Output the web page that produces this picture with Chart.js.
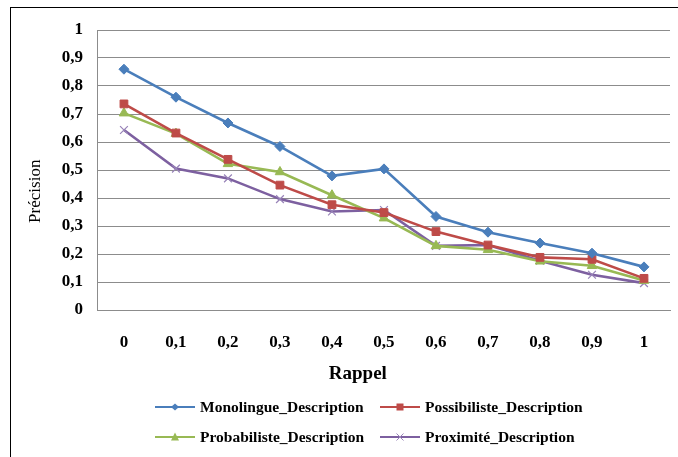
<!DOCTYPE html>
<html>
<head>
<meta charset="utf-8">
<script src="https://cdn.jsdelivr.net/npm/chart.js@4.4.1/dist/chart.umd.min.js"></script>
<style>
    body { margin: 0; background: #fff; width: 678px; height: 457px; overflow: hidden; position: relative; font-family: "Liberation Serif", serif; }
    #marco { position: absolute; left: 10px; top: 7px; width: 700px; height: 500px; border-left: 1px solid #000; border-top: 1px solid #000; }
    #grafica { position: absolute; left: 0; top: 0; }
    .item { position: absolute; display: flex; align-items: center; height: 20px; font-weight: bold; font-size: 15.5px; color: #000; white-space: nowrap; }
    .item svg { margin-right: 5px; }
</style>
</head>
<body>
<div id="marco"></div>
<canvas id="grafica" width="678" height="400"></canvas>
<div id="leyenda"></div>
<script>
// datos
const categorias = ['0', '0,1', '0,2', '0,3', '0,4', '0,5', '0,6', '0,7', '0,8', '0,9', '1'];
const monolingue = [0.86, 0.76, 0.668, 0.584, 0.479, 0.504, 0.334, 0.278, 0.239, 0.203, 0.154];
const possibiliste = [0.736, 0.632, 0.538, 0.446, 0.376, 0.348, 0.28, 0.232, 0.188, 0.181, 0.113];
const probabiliste = [0.703, 0.63, 0.522, 0.493, 0.41, 0.328, 0.229, 0.215, 0.174, 0.158, 0.105];
const proximite = [0.643, 0.505, 0.47, 0.396, 0.352, 0.357, 0.229, 0.232, 0.176, 0.126, 0.096];

const nombres = ['Monolingue_Description', 'Possibiliste_Description', 'Probabiliste_Description', 'Proximité_Description'];
const colores = ['#4A7EBB', '#BE4B48', '#98B954', '#7D60A0'];
const marcadores = ['rectRot', 'rect', 'triangle', 'crossRot'];
const valores = [monolingue, possibiliste, probabiliste, proximite];

const fuente = '"Liberation Serif", "Times New Roman", serif';
const gris = '#8c8c8c';
const nbsp = '\u00A0';

const ctx = document.getElementById('grafica').getContext('2d');

new Chart(ctx, {
    type: 'line',
    data: {
        labels: categorias,
        datasets: valores.map((serie, i) => ({
            label: nombres[i],
            data: serie,
            borderColor: colores[i],
            backgroundColor: colores[i],
            borderWidth: 2.6,
            pointStyle: marcadores[i],
            pointRadius: i === 0 ? 5 : 5.5,
            pointBorderWidth: i === 3 ? 1.2 : 1,
            pointBorderColor: i === 3 ? '#9883b8' : colores[i],
            tension: 0,
            fill: false
        }))
    },
    options: {
        responsive: false,
        animation: false,
        devicePixelRatio: 1,
        layout: {
            padding: { left: 25, top: 30, right: 8, bottom: 14.6 }
        },
        plugins: {
            legend: { display: false },
            tooltip: { enabled: false }
        },
        scales: {
            y: {
                min: 0,
                max: 1,
                ticks: {
                    stepSize: 0.1,
                    color: '#000',
                    padding: 15,
                    font: { family: fuente, size: 17, weight: 'bold' },
                    callback: v => String(Math.round(v * 10) / 10).replace('.', ',')
                },
                grid: { color: gris, lineWidth: 1, drawTicks: false },
                border: { color: gris },
                title: {
                    display: true,
                    // espacios al final para bajar el titulo como en el original
                    text: 'Précision' + nbsp.repeat(10),
                    color: '#000',
                    font: { family: fuente, size: 17 },
                    padding: { top: 0, bottom: 1.3 }
                }
            },
            x: {
                offset: true,
                grid: { display: false, drawTicks: false },
                border: { color: gris },
                ticks: {
                    color: '#000',
                    padding: 22.8,
                    maxRotation: 0,
                    font: { family: fuente, size: 17, weight: 'bold' }
                },
                title: {
                    display: true,
                    text: 'Rappel' + nbsp.repeat(11),
                    color: '#000',
                    font: { family: fuente, size: 19, weight: 'bold' },
                    padding: { top: -13.4, bottom: 0 }
                }
            }
        }
    }
});

// leyenda en dos columnas como la original
function dibujarMarcador(tipo, color) {
    let forma = '';
    if (tipo === 'rectRot') forma = `<polygon points="20,1.5 24,5 20,8.5 16,5" fill="${color}"/>`;
    if (tipo === 'rect') forma = `<rect x="16.5" y="1.5" width="7" height="7" fill="${color}"/>`;
    if (tipo === 'triangle') forma = `<polygon points="20,0.5 24,8.5 16,8.5" fill="${color}"/>`;
    if (tipo === 'crossRot') forma = `<path d="M16.5 1.5 L23.5 8.5 M23.5 1.5 L16.5 8.5" stroke="#9883b8" stroke-width="1"/>`;
    return `<svg width="40" height="10"><line x1="0" y1="5" x2="40" y2="5" stroke="${color}" stroke-width="2"/>${forma}</svg>`;
}

const leyenda = document.getElementById('leyenda');
const columnas = [155, 380];
const filas = [397, 427];
nombres.forEach((nombre, i) => {
    const div = document.createElement('div');
    div.className = 'item';
    div.style.left = columnas[i % 2] + 'px';
    div.style.top = filas[Math.floor(i / 2)] + 'px';
    div.innerHTML = dibujarMarcador(marcadores[i], colores[i]) + '<span>' + nombre + '</span>';
    leyenda.appendChild(div);
});
</script>
</body>
</html>
